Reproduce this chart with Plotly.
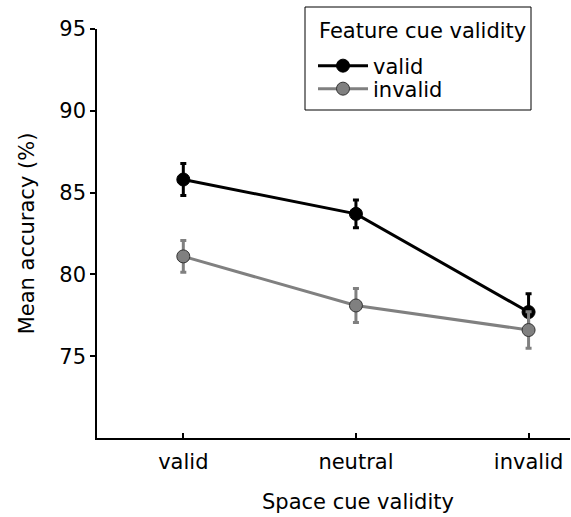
import plotly.graph_objects as go

categories = ["valid", "neutral", "invalid"]
valid_mean = [85.8, 83.7, 77.7]
valid_err = [0.98, 0.85, 1.12]
invalid_mean = [81.1, 78.1, 76.6]
invalid_err = [0.97, 1.04, 1.12]
yticks = [75, 80, 85, 90, 95]
legend_title = "Feature cue validity"
x_title = "Space cue validity"
y_title = "Mean accuracy (%)"

FONT = "DejaVu Sans"
FS = 21
xpos = list(range(len(categories)))

# plot area in pixels (for converting paper positions)
L, R, T, B = 97, 570, 29, 438
def px(x):
    return (x - L) / (R - L)
def py(y):
    return (B - y) / (B - T)

fig = go.Figure()
fig.add_trace(go.Scatter(
    x=xpos, y=valid_mean, name="valid", mode="lines+markers", legend="legend",
    line=dict(color="black", width=3),
    marker=dict(color="black", size=13, line=dict(color="black", width=1)),
    error_y=dict(type="data", array=valid_err, color="black", thickness=3, width=3),
))
fig.add_trace(go.Scatter(
    x=xpos, y=invalid_mean, name="invalid", mode="lines+markers", legend="legend2",
    line=dict(color="#808080", width=3),
    marker=dict(color="#808080", size=13, line=dict(color="#333333", width=1)),
    error_y=dict(type="data", array=invalid_err, color="#808080", thickness=3, width=3),
))

leg_common = dict(xanchor="left", yanchor="middle", borderwidth=0,
                  bgcolor="rgba(0,0,0,0)", font=dict(size=FS), itemwidth=50)

fig.update_layout(
    width=571, height=517,
    margin=dict(l=L, r=571 - R, t=T, b=517 - B),
    paper_bgcolor="white", plot_bgcolor="white",
    font=dict(family=FONT, size=FS, color="black"),
    showlegend=True,
    legend=dict(x=px(313), y=py(66), **leg_common),
    legend2=dict(x=px(313), y=py(89), **leg_common),
    xaxis=dict(
        range=[-0.5, 2.24], tickvals=xpos, ticktext=categories,
        showline=True, linecolor="black", linewidth=1.5,
        ticks="inside", ticklen=5, tickwidth=1.5, tickcolor="black",
        showgrid=False, zeroline=False, ticklabelstandoff=4,
    ),
    yaxis=dict(
        range=[70, 95], tickvals=yticks,
        showline=True, linecolor="black", linewidth=1.5,
        ticks="outside", ticklen=5, tickwidth=1.5, tickcolor="black",
        showgrid=False, zeroline=False, ticklabelstandoff=0,
        title=dict(text=y_title, font=dict(size=FS), standoff=19),
    ),
    shapes=[dict(type="rect", xref="paper", yref="paper",
                 x0=px(305), x1=px(531), y0=py(110), y1=py(7),
                 line=dict(color="black", width=1), fillcolor="rgba(0,0,0,0)",
                 layer="above")],
    annotations=[
        dict(text=legend_title, xref="paper", yref="paper", x=px(317), y=py(31),
             xanchor="left", yanchor="middle", showarrow=False, font=dict(size=FS)),
        dict(text=x_title, xref="paper", yref="paper", x=px(358), y=py(502),
             xanchor="center", yanchor="middle", showarrow=False, font=dict(size=FS)),
    ],
)

fig.write_html("out.html")
